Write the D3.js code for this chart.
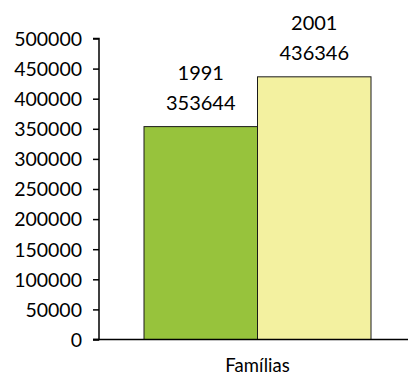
<!DOCTYPE html>
<html><head><meta charset="utf-8">
<script src="https://cdn.jsdelivr.net/npm/d3@7"></script>
<style>body{margin:0;background:#fff}svg{display:block}text{font-family:Lato,"Open Sans",sans-serif;fill:#000}</style>
</head><body><svg id="c" width="408" height="376"></svg>
<script>
const categories = ["Famílias"];
const years = ["1991", "2001"];
const values = [353644, 436346];
const colors = ["#97c33c", "#f3f1a0"];
const yTicks = [0, 50000, 100000, 150000, 200000, 250000, 300000, 350000, 400000, 450000, 500000];

const svg = d3.select("#c");
const x0 = 99, x1 = 416, yTop = 38.5, yBot = 339.5;
const y = d3.scaleLinear().domain([0, 500000]).range([yBot, yTop]);
const xc = d3.scaleBand().domain(categories).range([x0, x1]);
const xs = d3.scaleBand().domain(years).range([xc(categories[0]) + 45, xc(categories[0]) + xc.bandwidth() - 45]);

svg.selectAll("rect.bar").data(years).join("rect")
  .attr("class", "bar")
  .attr("x", d => xs(d)).attr("width", xs.bandwidth())
  .attr("y", (d, i) => y(values[i])).attr("height", (d, i) => yBot - y(values[i]))
  .attr("fill", (d, i) => colors[i]).attr("stroke", "#1a1a1a").attr("stroke-width", 1);

const ya = svg.append("g").attr("transform", `translate(${x0},0)`)
  .call(d3.axisLeft(y).tickValues(yTicks).tickSize(6).tickPadding(11).tickFormat(d3.format("d")));
ya.select(".domain").attr("stroke", "#000").attr("stroke-width", 1.5).attr("d", `M-6,${yTop}H0V${yBot}H-6`);
ya.selectAll(".tick line").attr("stroke", "#000").attr("stroke-width", 1.5);
ya.selectAll(".tick text").style("font-size", "19.5px").attr("dy", "0.35em");

svg.append("line").attr("x1", x0 - 6).attr("x2", 408).attr("y1", yBot).attr("y2", yBot)
  .attr("stroke", "#000").attr("stroke-width", 1.5);

const lab = svg.selectAll("g.lab").data(years).join("g").attr("class", "lab");
lab.append("text").attr("text-anchor", "middle").style("font-size", "20px")
  .attr("x", d => xs(d) + xs.bandwidth() / 2).attr("y", (d, i) => y(values[i]) - 47).text(d => d);
lab.append("text").attr("text-anchor", "middle").style("font-size", "20px")
  .attr("x", d => xs(d) + xs.bandwidth() / 2).attr("y", (d, i) => y(values[i]) - 17).text((d, i) => values[i]);

svg.append("text").attr("text-anchor", "middle").style("font-size", "18.5px")
  .attr("x", xc(categories[0]) + xc.bandwidth() / 2).attr("y", 372).text(categories[0]);
</script></body></html>
